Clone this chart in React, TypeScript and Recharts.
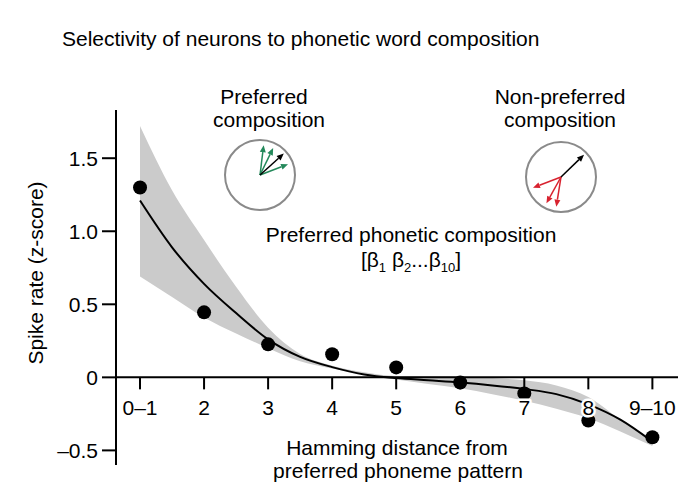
import React from "react";
import {
  ComposedChart,
  Area,
  Line,
  Scatter,
  XAxis,
  YAxis,
  ReferenceLine,
  ReferenceDot,
} from "recharts";

// Hamming distance positions (0–1 and 9–10 are pooled)
const tickPositions = [1, 2, 3, 4, 5, 6, 7, 8, 9];
const tickLabels = ["0–1", "2", "3", "4", "5", "6", "7", "8", "9–10"];
const yTicks = [-0.5, 0, 0.5, 1.0, 1.5];

// measured mean spike rate per distance
const meanRate = [1.3, 0.445, 0.226, 0.158, 0.068, -0.035, -0.11, -0.295, -0.41];

// fitted curve and its confidence band, sampled every half step
const fitX = [1, 1.5, 2, 2.5, 3, 3.5, 4, 4.5, 5, 5.5, 6, 6.5, 7, 7.5, 8, 8.5, 9];
const fitY = [1.21, 0.89, 0.64, 0.44, 0.26, 0.14, 0.07, 0.02, -0.005, -0.02, -0.035, -0.055, -0.08, -0.115, -0.185, -0.29, -0.44];
const bandHi = [1.72, 1.28, 0.94, 0.62, 0.34, 0.16, 0.08, 0.035, 0.01, 0.01, 0.005, -0.005, -0.02, -0.055, -0.135, -0.29, -0.43];
const bandLo = [0.69, 0.55, 0.41, 0.3, 0.2, 0.11, 0.06, 0.02, -0.015, -0.045, -0.075, -0.115, -0.16, -0.215, -0.28, -0.37, -0.47];

// inset arrow directions (degrees, counter-clockwise from east)
const preferredAngles = [83, 64, 21];
const preferredTarget = 42;
const nonPreferredAngles = [201, 241, 261];
const nonPreferredTarget = 44;

const fitData = fitX.map((x, i) => ({ x, fit: fitY[i], band: [bandLo[i], bandHi[i]] }));
const dotData = tickPositions.map((x, i) => ({ x, y: meanRate[i] }));

const FONT = "'Liberation Sans', Arial, Helvetica, sans-serif";
const FS = 21;
const GREEN = "#23885a";
const RED = "#d8222f";

function Arrow({ cx, cy, angle, len, color }: { cx: number; cy: number; angle: number; len: number; color: string }) {
  const a = (angle * Math.PI) / 180;
  const tx = cx + Math.cos(a) * len;
  const ty = cy - Math.sin(a) * len;
  const hx = Math.cos(a);
  const hy = -Math.sin(a);
  const head = 7;
  const bx = tx - hx * head;
  const by = ty - hy * head;
  const px = -hy * 3;
  const py = hx * 3;
  return (
    <g>
      <line x1={cx} y1={cy} x2={bx} y2={by} stroke={color} strokeWidth={1.5} />
      <polygon points={`${tx},${ty} ${bx + px},${by + py} ${bx - px},${by - py}`} fill={color} />
    </g>
  );
}

function Inset({ cx, cy, angles, target, color }: { cx: number; cy: number; angles: number[]; target: number; color: string }) {
  return (
    <g>
      <circle cx={cx} cy={cy} r={35} fill="none" stroke="#8a8a8a" strokeWidth={2} />
      {angles.map((a, i) => (
        <Arrow key={i} cx={cx} cy={cy} angle={a} len={30} color={color} />
      ))}
      <Arrow cx={cx} cy={cy} angle={target} len={32} color="#000" />
    </g>
  );
}

const yFormat = (v: number) => (v === 0 ? "0" : v < 0 ? "–" + Math.abs(v).toFixed(1) : v.toFixed(1));

export default function App() {
  return (
    <div style={{ position: "absolute", left: 0, top: 0, width: 695, height: 483, background: "#fff", fontFamily: FONT }}>
      <ComposedChart
        width={695}
        height={483}
        data={fitData}
        margin={{ top: 110, right: 17, bottom: 18, left: 56 }}
      >
        <XAxis dataKey="x" type="number" domain={[0.625, 9.4]} hide />
        <YAxis
          type="number"
          domain={[-0.6, 1.83]}
          ticks={yTicks}
          tickFormatter={yFormat}
          width={60}
          axisLine={{ stroke: "#000", strokeWidth: 2 }}
          tickLine={{ stroke: "#000", strokeWidth: 2 }}
          tickSize={14}
          tickMargin={4}
          tick={{ fill: "#000", fontSize: FS, fontFamily: FONT }}
        />
        <Area
          dataKey="band"
          type="monotone"
          stroke="none"
          fill="#cbcbcb"
          fillOpacity={1}
          isAnimationActive={false}
        />
        <Line
          dataKey="fit"
          type="monotone"
          stroke="#000"
          strokeWidth={2}
          dot={false}
          isAnimationActive={false}
        />
        <ReferenceLine y={0} stroke="#000" strokeWidth={2} />
        <Scatter
          data={dotData}
          dataKey="y"
          fill="#000"
          isAnimationActive={false}
          shape={(p: any) => <circle cx={p.cx} cy={p.cy} r={7} fill="#000" />}
        />
        {tickPositions.map((x, i) => (
          <ReferenceDot
            key={x}
            x={x}
            y={0}
            r={0}
            shape={(p: any) => (
              <g>
                <line x1={p.cx} y1={p.cy} x2={p.cx} y2={p.cy + 12} stroke="#000" strokeWidth={2} />
                <text
                  x={p.cx}
                  y={p.cy + 38}
                  textAnchor="middle"
                  fontSize={FS}
                  fontFamily={FONT}
                  fill="#000"
                  stroke="#fff"
                  strokeWidth={5}
                  strokeLinejoin="round"
                  paintOrder="stroke"
                >
                  {tickLabels[i]}
                </text>
              </g>
            )}
          />
        ))}
      </ComposedChart>

      <svg
        width={695}
        height={483}
        style={{ position: "absolute", left: 0, top: 0, pointerEvents: "none" }}
        fontFamily={FONT}
        fill="#000"
      >
        <text x={62} y={46} fontSize={FS}>
          Selectivity of neurons to phonetic word composition
        </text>
        <text transform="translate(43,273) rotate(-90)" textAnchor="middle" fontSize={FS}>
          Spike rate (z-score)
        </text>

        <text x={264} y={104} textAnchor="middle" fontSize={FS}>Preferred</text>
        <text x={269} y={127} textAnchor="middle" fontSize={FS}>composition</text>
        <text x={560} y={104} textAnchor="middle" fontSize={FS}>Non-preferred</text>
        <text x={560} y={127} textAnchor="middle" fontSize={FS}>composition</text>

        <Inset cx={260} cy={175} angles={preferredAngles} target={preferredTarget} color={GREEN} />
        <Inset cx={561} cy={177} angles={nonPreferredAngles} target={nonPreferredTarget} color={RED} />

        <text x={411} y={242} textAnchor="middle" fontSize={FS}>
          Preferred phonetic composition
        </text>
        <text x={411} y={267} textAnchor="middle" fontSize={FS}>
          [β<tspan fontSize={13} dy={5}>1</tspan>
          <tspan dy={-5}> β</tspan>
          <tspan fontSize={13} dy={5}>2</tspan>
          <tspan dy={-5}>...β</tspan>
          <tspan fontSize={13} dy={5}>10</tspan>
          <tspan dy={-5}>]</tspan>
        </text>

        <text x={397} y={455} textAnchor="middle" fontSize={FS}>
          Hamming distance from
        </text>
        <text x={398} y={478} textAnchor="middle" fontSize={FS}>
          preferred phoneme pattern
        </text>
      </svg>
    </div>
  );
}
